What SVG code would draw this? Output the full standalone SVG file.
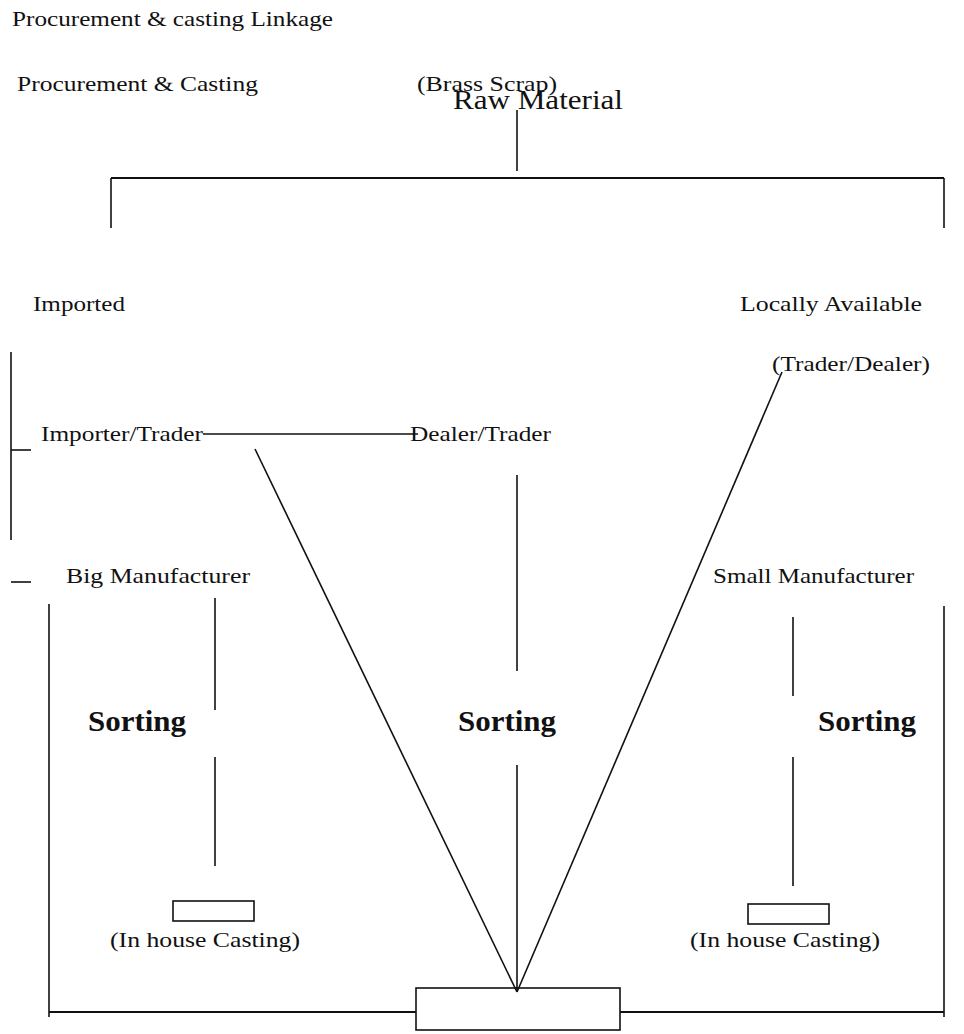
<svg xmlns="http://www.w3.org/2000/svg" width="964" height="1034" viewBox="0 0 964 1034">
<style>
text{font-family:"Liberation Serif","Times New Roman",serif;fill:#111;font-size:21px}
.b{font-weight:bold;font-size:29px}
.big{font-size:28px}
.bg{fill:#fff;stroke:none}
line,.box{stroke:#111;stroke-width:1.6;fill:none}
.thick{stroke-width:2.2}
</style>
<rect class="bg" width="964" height="1034"/>
<g id="titles">
<text x="12" y="26" textLength="321" lengthAdjust="spacingAndGlyphs">Procurement &amp; casting Linkage</text>
<text x="17" y="91" textLength="241" lengthAdjust="spacingAndGlyphs">Procurement &amp; Casting</text>
</g>
<g id="raw-material">
<text x="417" y="91" textLength="140" lengthAdjust="spacingAndGlyphs">(Brass Scrap)</text>
<text class="big" x="453" y="109" textLength="170" lengthAdjust="spacingAndGlyphs">Raw Material</text>
</g>
<g id="imported"><text x="33" y="311" textLength="92" lengthAdjust="spacingAndGlyphs">Imported</text></g>
<g id="local">
<text x="740" y="311" textLength="182" lengthAdjust="spacingAndGlyphs">Locally Available</text>
<text x="772" y="371" textLength="158" lengthAdjust="spacingAndGlyphs">(Trader/Dealer)</text>
</g>
<g id="importer"><text x="41" y="441" textLength="162" lengthAdjust="spacingAndGlyphs">Importer/Trader</text></g>
<g id="dealer"><text x="410" y="441" textLength="141" lengthAdjust="spacingAndGlyphs">Dealer/Trader</text></g>
<g id="big-manufacturer"><text x="66" y="583" textLength="184" lengthAdjust="spacingAndGlyphs">Big Manufacturer</text></g>
<g id="small-manufacturer"><text x="713" y="583" textLength="201" lengthAdjust="spacingAndGlyphs">Small Manufacturer</text></g>
<g id="sorting-left"><text class="b" x="88" y="731" textLength="98" lengthAdjust="spacingAndGlyphs">Sorting</text></g>
<g id="sorting-mid"><text class="b" x="458" y="731" textLength="98" lengthAdjust="spacingAndGlyphs">Sorting</text></g>
<g id="sorting-right"><text class="b" x="818" y="731" textLength="98" lengthAdjust="spacingAndGlyphs">Sorting</text></g>
<g id="casting-left">
<rect class="box" x="173" y="901" width="81" height="20"/>
<text x="110" y="947" textLength="190" lengthAdjust="spacingAndGlyphs">(In house Casting)</text>
</g>
<g id="casting-right">
<rect class="box" x="748" y="904" width="81" height="20"/>
<text x="690" y="947" textLength="190" lengthAdjust="spacingAndGlyphs">(In house Casting)</text>
</g>
<g id="central-casting"><rect class="box" x="416" y="988" width="204" height="42"/></g>
<g id="connectors">
<line x1="517" y1="110" x2="517" y2="171"/>
<line class="thick" x1="111" y1="178" x2="944" y2="178"/>
<line x1="111" y1="178" x2="111" y2="228"/>
<line x1="944" y1="178" x2="944" y2="228"/>
<line x1="11" y1="352" x2="11" y2="540"/>
<line x1="11" y1="450" x2="31" y2="450"/>
<line x1="11" y1="582" x2="31" y2="582"/>
<line x1="203" y1="434" x2="418" y2="434"/>
<line x1="255" y1="449" x2="517" y2="992"/>
<line x1="782" y1="372" x2="517" y2="992"/>
<line x1="517" y1="475" x2="517" y2="671"/>
<line x1="517" y1="765" x2="517" y2="992"/>
<line x1="215" y1="598" x2="215" y2="710"/>
<line x1="215" y1="757" x2="215" y2="866"/>
<line x1="793" y1="617" x2="793" y2="696"/>
<line x1="793" y1="757" x2="793" y2="886"/>
<line x1="49" y1="604" x2="49" y2="1017"/>
<line x1="944" y1="606" x2="944" y2="1017"/>
<line class="thick" x1="49" y1="1012" x2="416" y2="1012"/>
<line class="thick" x1="620" y1="1012" x2="944" y2="1012"/>
</g>
</svg>
